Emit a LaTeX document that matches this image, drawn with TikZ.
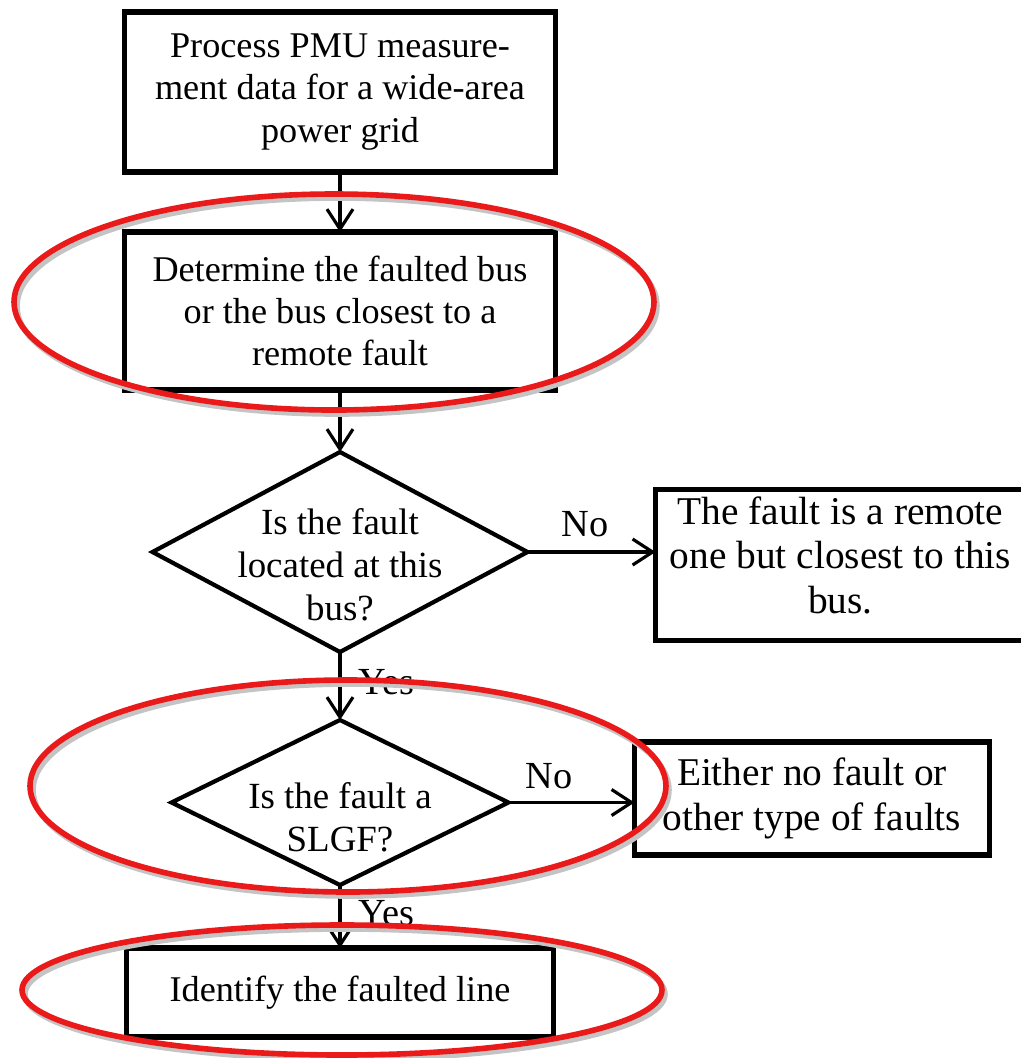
\documentclass[tikz,border=0pt]{standalone}
\usepackage{fontspec}
\setmainfont{Liberation Serif}
\usetikzlibrary{arrows.meta,positioning,shapes.geometric}
\definecolor{MarkRed}{HTML}{EA1A1A}
\definecolor{MarkShade}{HTML}{C4C4C4}

\begin{document}
\begin{tikzpicture}[node distance=0.6cm,outer sep=0pt,font=\fontsize{10.3}{12}\selectfont]
    \tikzset{box/.style={draw,line width=1.5pt,minimum width=4.31cm,align=center,inner sep=2pt},
      side/.style={box,font=\fontsize{11.2}{12.6}\selectfont},
      dec/.style={draw,diamond,line width=1.2pt,inner sep=0pt},
      qtext/.style={align=center,inner sep=0pt,font=\fontsize{10.5}{12.2}\selectfont},
      arr/.style={line width=0.9pt,-{Straight Barb[length=2mm,width=2.6mm]}},
      lbl/.style={inner sep=1pt,font=\fontsize{10.9}{12}\selectfont},
      ring/.style={draw=MarkRed,line width=1.6pt},
      shade/.style={draw=MarkShade,line width=1.6pt}}
    \useasboundingbox (0,0) rectangle (10.21,-10.58);
    \node[box,minimum height=1.6cm] (a) at (3.40,-0.92) {Process PMU measure-\\ment data for a wide-area\\power grid};
    \node[box,minimum height=1.58cm,below=0.6cm of a] (b) {Determine the faulted bus\\or the bus closest to a\\remote fault};
    \node[dec,minimum width=3.75cm,minimum height=2.0cm,below=0.62cm of b] (c) {};
    \node[qtext] (ct) at ([yshift=-0.13cm]c.center) {Is the fault\\located at this\\bus?};
    \node[side,minimum width=3.7cm,minimum height=1.36cm,text depth=0.2cm,right=1.28cm of c,yshift=-0.13cm] (cn) {The fault is a remote\\one but closest to this\\bus.};
    \node[dec,minimum width=3.37cm,minimum height=1.65cm,below=0.68cm of c] (d) {};
    \node[qtext] (dt) at ([yshift=-0.15cm]d.center) {Is the fault a\\SLGF?};
    \node[side,minimum width=3.55cm,minimum height=1.13cm,right=1.26cm of d,yshift=0.04cm] (dn) {Either no fault or\\other type of faults};
    \node[box,minimum width=4.27cm,minimum height=0.89cm,below=0.63cm of d] (e) {Identify the faulted line};
    % flow
    \draw[arr] (a) -- (b);
    \draw[arr] (b) -- (c);
    \draw[arr] (c) -- node[lbl,right,pos=0.45,xshift=0.15cm] {Yes} (d);
    \draw[arr] (d) -- node[lbl,right,pos=0.45,xshift=0.15cm] {Yes} (e);
    \draw[arr] (c.east) -- node[lbl,above,pos=0.45,yshift=0.12cm] {No} (c.east -| cn.west);
    \draw[arr] (d.east) -- node[lbl,above,pos=0.32,yshift=0.1cm] {No} (d.east -| dn.west);
    % highlight rings
    \foreach \cx/\cy/\rx/\ry in {3.34/-3.02/3.20/1.08, 3.48/-7.86/3.18/1.06, 3.42/-9.90/3.20/0.65} {
      \draw[shade] (\cx+0.03,\cy-0.04) ellipse [x radius=\rx cm,y radius=\ry cm];
      \draw[ring] (\cx,\cy) ellipse [x radius=\rx cm,y radius=\ry cm];
    }
\end{tikzpicture}
\end{document}
